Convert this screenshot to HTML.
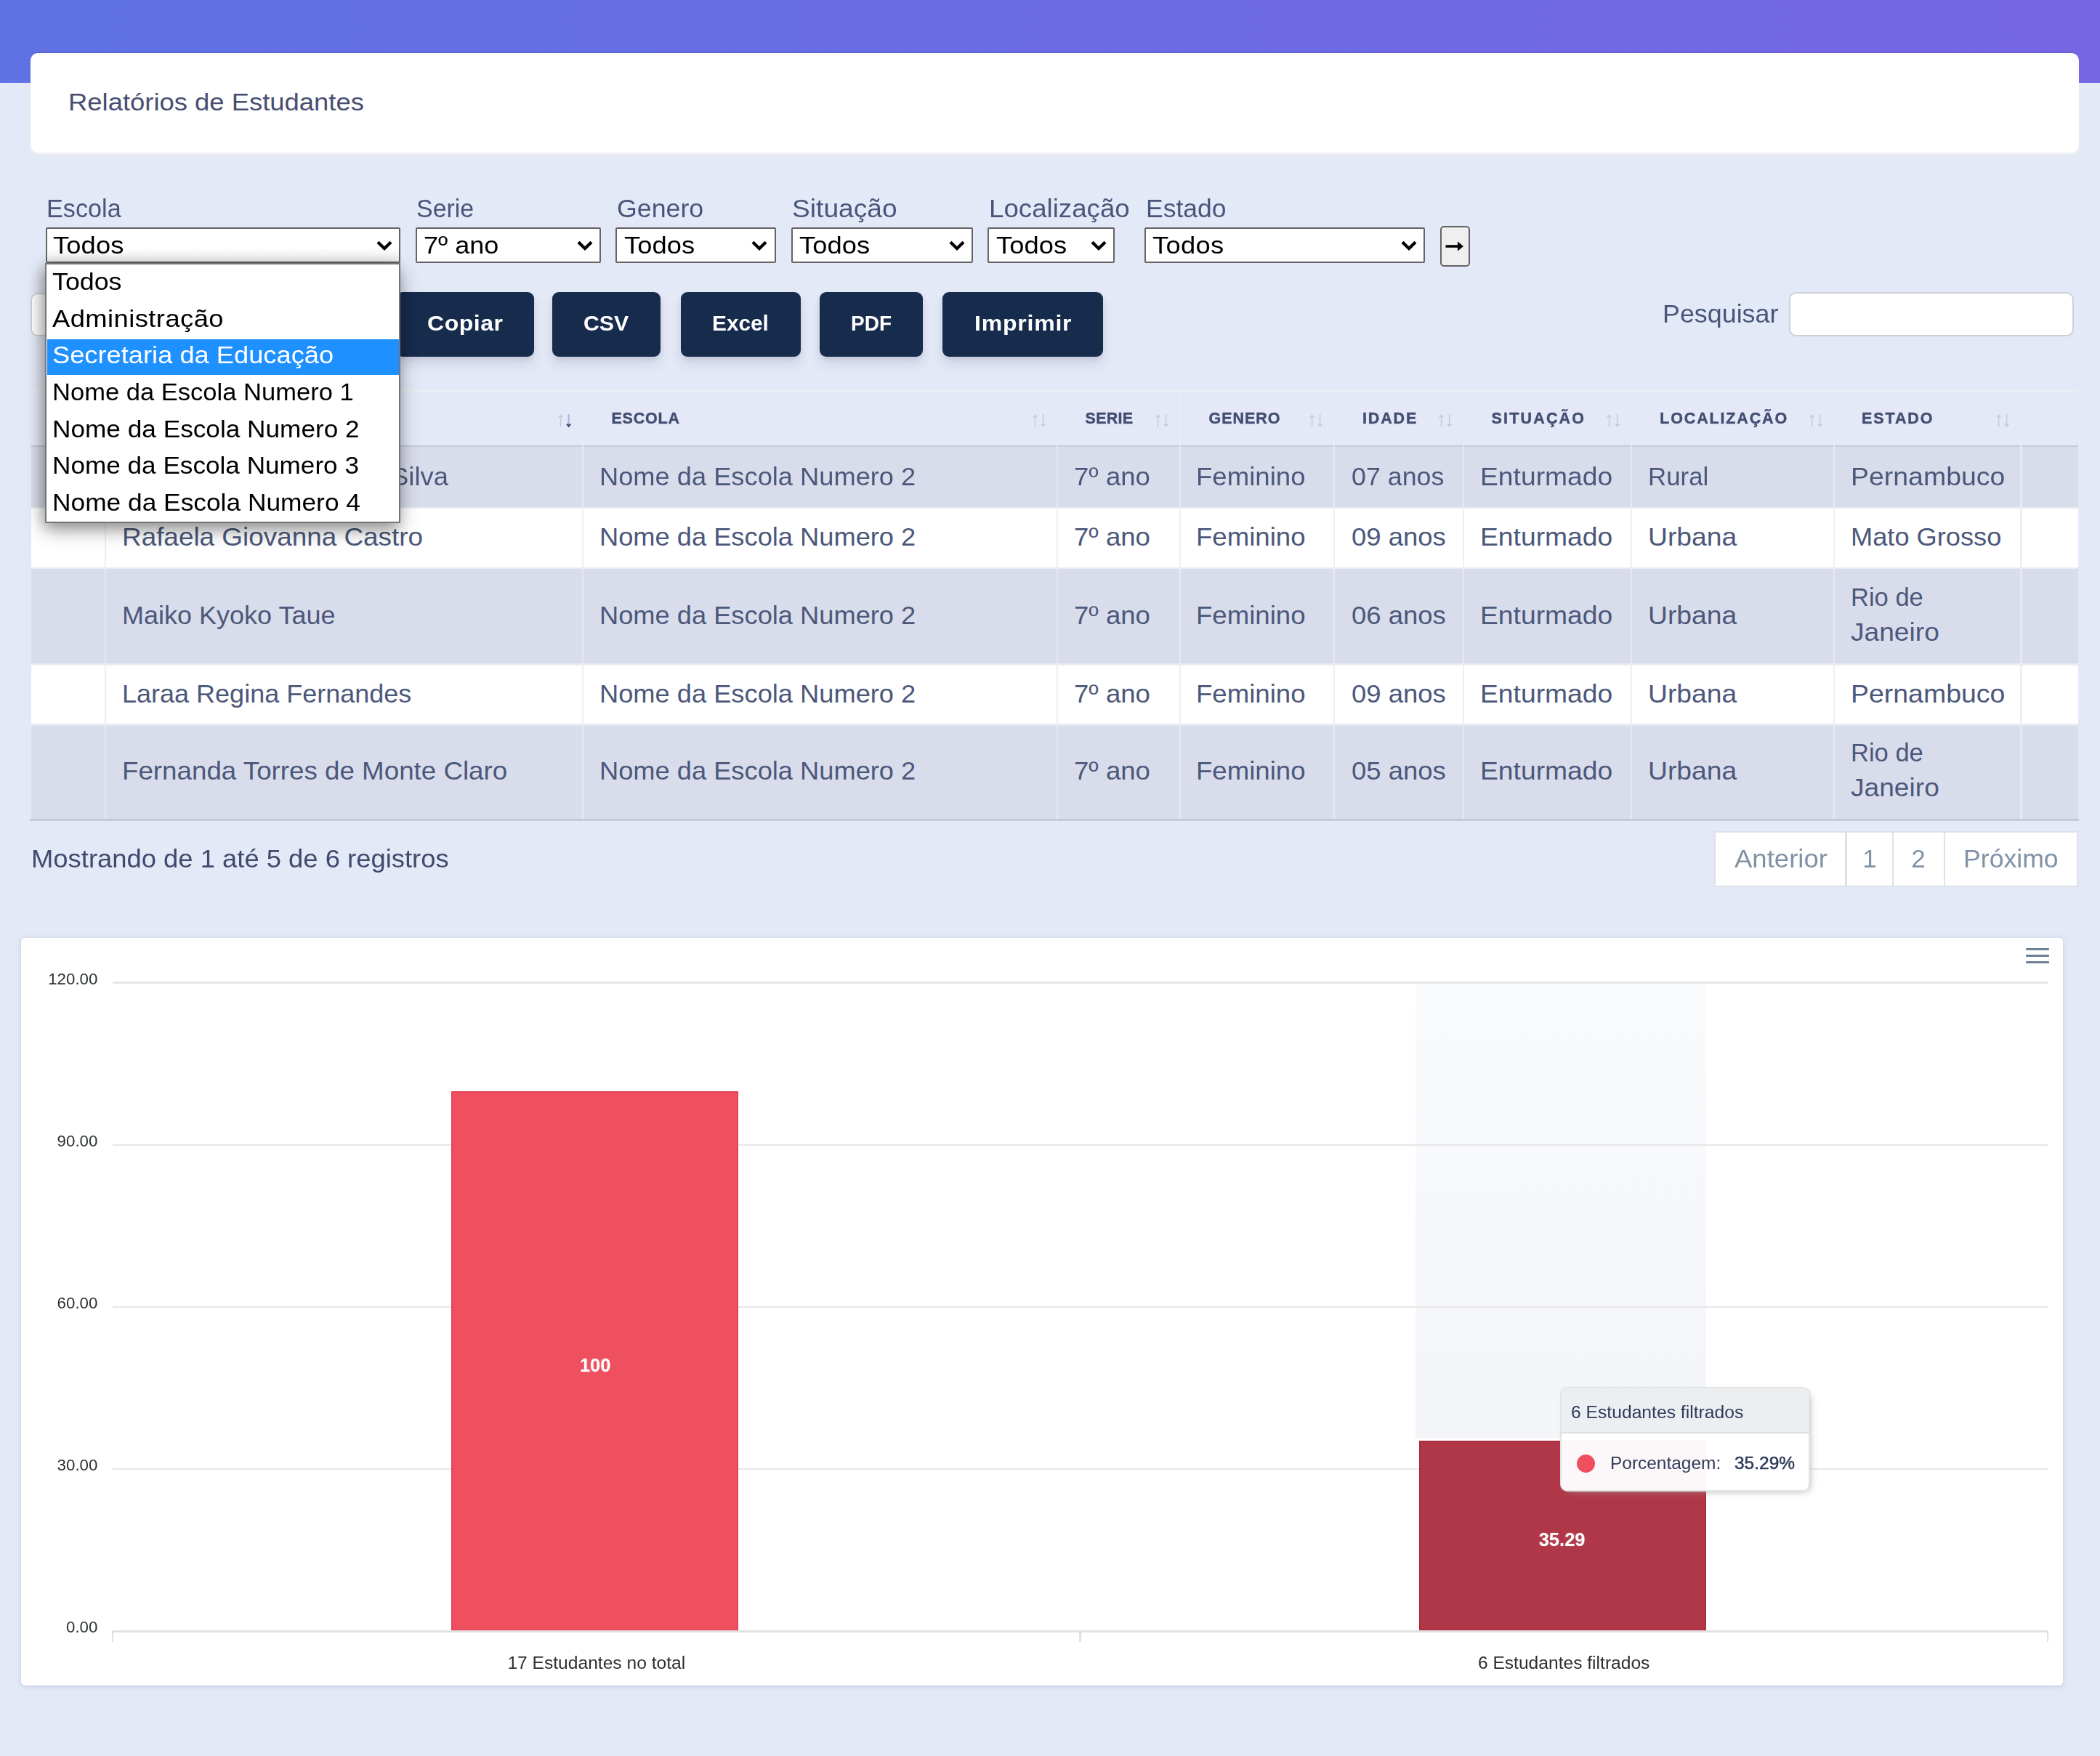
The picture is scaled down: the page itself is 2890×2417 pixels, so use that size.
<!DOCTYPE html>
<html lang="pt-br"><head><meta charset="utf-8"><title>Relatórios de Estudantes</title>
<style>
html,body{margin:0;padding:0}
html{overflow:hidden;width:2890px;height:2417px}
#w{position:absolute;left:0;top:0;width:2890px;height:2417px;overflow:hidden}
body{width:2890px;height:2417px;overflow:hidden;background:#e4e9f7;font-family:"Liberation Sans",sans-serif;position:relative}
#p{position:absolute;left:0;top:0;width:2890px;height:2417px;filter:blur(0.7px)}
#p div,#p span,#p svg{position:absolute;display:block}
#p span{white-space:pre;transform-origin:0 50%}
</style></head><body><div id="w"><div id="p"><div style="left:-20.0px;top:-20.0px;width:2930.0px;height:134.0px;background:linear-gradient(89deg,#5f72e4 0,#7766e4 100%);"></div><div style="left:41.5px;top:70.8px;width:2819.0px;height:29.2px;background:rgba(0,0,20,.07);border-radius:12px;"></div><div style="left:41.5px;top:150.0px;width:2819.0px;height:63.3px;background:#f0f1f4;border-radius:0 0 12px 12px;"></div><div style="left:41.5px;top:73.3px;width:2819.0px;height:136.7px;background:#fff;border-radius:10px;"></div><span style="left:93.6px;top:122.7px;font-size:34px;line-height:34px;color:#484e70;transform:scaleX(1.0711);">Relatórios de Estudantes</span><span style="left:64.0px;top:269.8px;font-size:34.5px;line-height:34.5px;color:#49557b;transform:scaleX(0.9913);">Escola</span><span style="left:573.3px;top:269.8px;font-size:34.5px;line-height:34.5px;color:#49557b;transform:scaleX(0.9839);">Serie</span><span style="left:848.8px;top:269.8px;font-size:34.5px;line-height:34.5px;color:#49557b;transform:scaleX(1.0356);">Genero</span><span style="left:1090.0px;top:269.8px;font-size:34.5px;line-height:34.5px;color:#49557b;transform:scaleX(1.0774);">Situação</span><span style="left:1361.0px;top:269.8px;font-size:34.5px;line-height:34.5px;color:#49557b;transform:scaleX(1.0631);">Localização</span><span style="left:1577.0px;top:269.8px;font-size:34.5px;line-height:34.5px;color:#49557b;transform:scaleX(1.0289);">Estado</span><div style="left:63.0px;top:313.0px;width:488.0px;height:49.0px;box-sizing:border-box;background:#fff;border:2.5px solid #646464;border-radius:2px;background:linear-gradient(#fff 60%,#ececec 100%);"><svg style="position:absolute;right:9.5px;top:16px" width="22" height="14" viewBox="0 0 22 14"><path d="M2 2.2 L11 11 L20 2.2" fill="none" stroke="#000" stroke-width="4.2" stroke-linecap="butt" stroke-linejoin="miter"/></svg></div><span style="left:73.3px;top:320.6px;font-size:33.5px;line-height:33.5px;color:#000;letter-spacing:0.09px;transform:scaleX(1.0850);">Todos</span><div style="left:572.0px;top:313.0px;width:255.0px;height:49.0px;box-sizing:border-box;background:#fff;border:2.5px solid #646464;border-radius:2px;"><svg style="position:absolute;right:9.5px;top:16px" width="22" height="14" viewBox="0 0 22 14"><path d="M2 2.2 L11 11 L20 2.2" fill="none" stroke="#000" stroke-width="4.2" stroke-linecap="butt" stroke-linejoin="miter"/></svg></div><span style="left:582.7px;top:320.6px;font-size:33.5px;line-height:33.5px;color:#000;transform:scaleX(1.0749);">7º ano</span><div style="left:847.0px;top:313.0px;width:220.5px;height:49.0px;box-sizing:border-box;background:#fff;border:2.5px solid #646464;border-radius:2px;"><svg style="position:absolute;right:9.5px;top:16px" width="22" height="14" viewBox="0 0 22 14"><path d="M2 2.2 L11 11 L20 2.2" fill="none" stroke="#000" stroke-width="4.2" stroke-linecap="butt" stroke-linejoin="miter"/></svg></div><span style="left:858.7px;top:320.6px;font-size:33.5px;line-height:33.5px;color:#000;letter-spacing:0.07px;transform:scaleX(1.0850);">Todos</span><div style="left:1088.5px;top:313.0px;width:250.5px;height:49.0px;box-sizing:border-box;background:#fff;border:2.5px solid #646464;border-radius:2px;"><svg style="position:absolute;right:9.5px;top:16px" width="22" height="14" viewBox="0 0 22 14"><path d="M2 2.2 L11 11 L20 2.2" fill="none" stroke="#000" stroke-width="4.2" stroke-linecap="butt" stroke-linejoin="miter"/></svg></div><span style="left:1100.0px;top:320.6px;font-size:33.5px;line-height:33.5px;color:#000;letter-spacing:0.07px;transform:scaleX(1.0850);">Todos</span><div style="left:1359.0px;top:313.0px;width:175.0px;height:49.0px;box-sizing:border-box;background:#fff;border:2.5px solid #646464;border-radius:2px;"><svg style="position:absolute;right:9.5px;top:16px" width="22" height="14" viewBox="0 0 22 14"><path d="M2 2.2 L11 11 L20 2.2" fill="none" stroke="#000" stroke-width="4.2" stroke-linecap="butt" stroke-linejoin="miter"/></svg></div><span style="left:1370.7px;top:320.6px;font-size:33.5px;line-height:33.5px;color:#000;letter-spacing:0.07px;transform:scaleX(1.0850);">Todos</span><div style="left:1575.0px;top:313.0px;width:386.0px;height:49.0px;box-sizing:border-box;background:#fff;border:2.5px solid #646464;border-radius:2px;"><svg style="position:absolute;right:9.5px;top:16px" width="22" height="14" viewBox="0 0 22 14"><path d="M2 2.2 L11 11 L20 2.2" fill="none" stroke="#000" stroke-width="4.2" stroke-linecap="butt" stroke-linejoin="miter"/></svg></div><span style="left:1585.9px;top:320.6px;font-size:33.5px;line-height:33.5px;color:#000;letter-spacing:0.25px;transform:scaleX(1.0850);">Todos</span><div style="left:1982.0px;top:310.5px;width:41.0px;height:56.0px;box-sizing:border-box;background:#efefef;border:2.5px solid #646464;border-radius:5px;"><svg style="position:absolute;left:5px;top:17px" width="26" height="18" viewBox="0 0 26 18"><path d="M0.5 9 H22" stroke="#000" stroke-width="3.6" fill="none"/><path d="M17 2.5 L25 9 L17 15.5 Z" fill="#000"/></svg></div><div style="left:41.7px;top:402.6px;width:288.3px;height:60.4px;box-sizing:border-box;background:#fff;border:2.5px solid #cad1d7;border-radius:10px;"></div><div style="left:544.5px;top:402.0px;width:190.2px;height:89.0px;background:#172b4d;border-radius:9px;box-shadow:0 11px 16px rgba(50,50,93,.11),0 3px 8px rgba(0,0,0,.08);"></div><span style="left:587.5px;top:429.8px;font-size:29.5px;line-height:29.5px;color:#fff;font-weight:700;letter-spacing:0.49px;transform:scaleX(1.0850);">Copiar</span><div style="left:760.0px;top:402.0px;width:149.0px;height:89.0px;background:#172b4d;border-radius:9px;box-shadow:0 11px 16px rgba(50,50,93,.11),0 3px 8px rgba(0,0,0,.08);"></div><span style="left:802.7px;top:429.8px;font-size:29.5px;line-height:29.5px;color:#fff;font-weight:700;transform:scaleX(1.0264);">CSV</span><div style="left:936.8px;top:402.0px;width:165.2px;height:89.0px;background:#172b4d;border-radius:9px;box-shadow:0 11px 16px rgba(50,50,93,.11),0 3px 8px rgba(0,0,0,.08);"></div><span style="left:980.0px;top:429.8px;font-size:29.5px;line-height:29.5px;color:#fff;font-weight:700;transform:scaleX(1.0104);">Excel</span><div style="left:1127.5px;top:402.0px;width:142.5px;height:89.0px;background:#172b4d;border-radius:9px;box-shadow:0 11px 16px rgba(50,50,93,.11),0 3px 8px rgba(0,0,0,.08);"></div><span style="left:1170.7px;top:429.8px;font-size:29.5px;line-height:29.5px;color:#fff;font-weight:700;transform:scaleX(0.9492);">PDF</span><div style="left:1297.0px;top:402.0px;width:221.0px;height:89.0px;background:#172b4d;border-radius:9px;box-shadow:0 11px 16px rgba(50,50,93,.11),0 3px 8px rgba(0,0,0,.08);"></div><span style="left:1340.5px;top:429.8px;font-size:29.5px;line-height:29.5px;color:#fff;font-weight:700;letter-spacing:0.72px;transform:scaleX(1.0850);">Imprimir</span><span style="left:2288.0px;top:414.8px;font-size:34.5px;line-height:34.5px;color:#49557b;transform:scaleX(1.0391);">Pesquisar</span><div style="left:2462.0px;top:402.0px;width:391.6px;height:61.0px;box-sizing:border-box;background:#fff;border:2.5px solid #cad1d7;border-radius:10px;"></div><div style="left:43.0px;top:536.5px;width:2816.5px;height:77.8px;background:#e5e9f7;"></div><div style="left:43.0px;top:536.5px;width:2816.5px;height:2.8px;background:#ebedf2;"></div><div style="left:43.0px;top:614.3px;width:2816.5px;height:84.7px;background:#d9ddeb;"></div><div style="left:43.0px;top:699.0px;width:2816.5px;height:82.8px;background:#ffffff;"></div><div style="left:43.0px;top:697.7px;width:2816.5px;height:2.6px;background:#e9ecf2;"></div><div style="left:43.0px;top:781.8px;width:2816.5px;height:132.8px;background:#d9ddeb;"></div><div style="left:43.0px;top:780.5px;width:2816.5px;height:2.6px;background:#e9ecf2;"></div><div style="left:43.0px;top:914.6px;width:2816.5px;height:82.7px;background:#ffffff;"></div><div style="left:43.0px;top:913.3px;width:2816.5px;height:2.6px;background:#e9ecf2;"></div><div style="left:43.0px;top:997.3px;width:2816.5px;height:130.3px;background:#d9ddeb;"></div><div style="left:43.0px;top:996.0px;width:2816.5px;height:2.6px;background:#e9ecf2;"></div><div style="left:43.0px;top:613.0px;width:2816.5px;height:2.4px;background:#c6cbd6;"></div><div style="left:144.2px;top:536.5px;width:2.3px;height:591.1px;background:#e9ecef;opacity:.8;"></div><div style="left:801.2px;top:536.5px;width:2.3px;height:591.1px;background:#e9ecef;opacity:.8;"></div><div style="left:1453.5px;top:536.5px;width:2.3px;height:591.1px;background:#e9ecef;opacity:.8;"></div><div style="left:1623.2px;top:536.5px;width:2.3px;height:591.1px;background:#e9ecef;opacity:.8;"></div><div style="left:1834.6px;top:536.5px;width:2.3px;height:591.1px;background:#e9ecef;opacity:.8;"></div><div style="left:2013.2px;top:536.5px;width:2.3px;height:591.1px;background:#e9ecef;opacity:.8;"></div><div style="left:2243.5px;top:536.5px;width:2.3px;height:591.1px;background:#e9ecef;opacity:.8;"></div><div style="left:2523.1px;top:536.5px;width:2.3px;height:591.1px;background:#e9ecef;opacity:.8;"></div><div style="left:2780.3px;top:536.5px;width:2.3px;height:591.1px;background:#e9ecef;opacity:.8;"></div><div style="left:41.0px;top:1127.2px;width:2820.0px;height:2.5px;background:#c6cbd6;"></div><span style="left:841.5px;top:565.8px;font-size:21.5px;line-height:21.5px;color:#434d72;font-weight:700;letter-spacing:0.78px;-webkit-text-stroke:0.45px #434d72;">ESCOLA</span><span style="left:1493.6px;top:565.8px;font-size:21.5px;line-height:21.5px;color:#434d72;font-weight:700;letter-spacing:0.23px;-webkit-text-stroke:0.45px #434d72;">SERIE</span><span style="left:1663.6px;top:565.8px;font-size:21.5px;line-height:21.5px;color:#434d72;font-weight:700;letter-spacing:0.92px;-webkit-text-stroke:0.45px #434d72;">GENERO</span><span style="left:1875.0px;top:565.8px;font-size:21.5px;line-height:21.5px;color:#434d72;font-weight:700;letter-spacing:1.85px;-webkit-text-stroke:0.45px #434d72;">IDADE</span><span style="left:2052.6px;top:565.8px;font-size:21.5px;line-height:21.5px;color:#434d72;font-weight:700;letter-spacing:2.16px;-webkit-text-stroke:0.45px #434d72;">SITUAÇÃO</span><span style="left:2284.3px;top:565.8px;font-size:21.5px;line-height:21.5px;color:#434d72;font-weight:700;letter-spacing:1.84px;-webkit-text-stroke:0.45px #434d72;">LOCALIZAÇÃO</span><span style="left:2562.0px;top:565.8px;font-size:21.5px;line-height:21.5px;color:#434d72;font-weight:700;letter-spacing:1.90px;-webkit-text-stroke:0.45px #434d72;">ESTADO</span><span style="left:184.0px;top:565.3px;font-size:21.5px;line-height:21.5px;color:#434d72;font-weight:700;letter-spacing:0.50px;">NOME</span><svg style="left:766.3px;top:569px" width="22" height="20" viewBox="0 0 22 20"><path d="M5.6 18.4 V2.6 M2.8 5.8 L5.6 2.4 L8.4 5.8" fill="none" stroke="#c6ccdb" stroke-width="1.6"/><path d="M16.6 1 V17" fill="none" stroke="#a9b6e6" stroke-width="2.2"/><path d="M14.2 14.6 L16.6 17.6 L19 14.6" fill="none" stroke="#4d4a75" stroke-width="2.4"/></svg><svg style="left:1418.6px;top:569px" width="22" height="20" viewBox="0 0 22 20"><path d="M5.6 18.4 V2.6 M2.8 5.8 L5.6 2.4 L8.4 5.8" fill="none" stroke="#c6ccdb" stroke-width="1.6"/><path d="M16.6 1 V17.4 M13.8 14.4 L16.6 17.6 L19.4 14.4" fill="none" stroke="#c6ccdb" stroke-width="1.6"/></svg><svg style="left:1588.3px;top:569px" width="22" height="20" viewBox="0 0 22 20"><path d="M5.6 18.4 V2.6 M2.8 5.8 L5.6 2.4 L8.4 5.8" fill="none" stroke="#c6ccdb" stroke-width="1.6"/><path d="M16.6 1 V17.4 M13.8 14.4 L16.6 17.6 L19.4 14.4" fill="none" stroke="#c6ccdb" stroke-width="1.6"/></svg><svg style="left:1799.7px;top:569px" width="22" height="20" viewBox="0 0 22 20"><path d="M5.6 18.4 V2.6 M2.8 5.8 L5.6 2.4 L8.4 5.8" fill="none" stroke="#c6ccdb" stroke-width="1.6"/><path d="M16.6 1 V17.4 M13.8 14.4 L16.6 17.6 L19.4 14.4" fill="none" stroke="#c6ccdb" stroke-width="1.6"/></svg><svg style="left:1978.3px;top:569px" width="22" height="20" viewBox="0 0 22 20"><path d="M5.6 18.4 V2.6 M2.8 5.8 L5.6 2.4 L8.4 5.8" fill="none" stroke="#c6ccdb" stroke-width="1.6"/><path d="M16.6 1 V17.4 M13.8 14.4 L16.6 17.6 L19.4 14.4" fill="none" stroke="#c6ccdb" stroke-width="1.6"/></svg><svg style="left:2208.6px;top:569px" width="22" height="20" viewBox="0 0 22 20"><path d="M5.6 18.4 V2.6 M2.8 5.8 L5.6 2.4 L8.4 5.8" fill="none" stroke="#c6ccdb" stroke-width="1.6"/><path d="M16.6 1 V17.4 M13.8 14.4 L16.6 17.6 L19.4 14.4" fill="none" stroke="#c6ccdb" stroke-width="1.6"/></svg><svg style="left:2488.2px;top:569px" width="22" height="20" viewBox="0 0 22 20"><path d="M5.6 18.4 V2.6 M2.8 5.8 L5.6 2.4 L8.4 5.8" fill="none" stroke="#c6ccdb" stroke-width="1.6"/><path d="M16.6 1 V17.4 M13.8 14.4 L16.6 17.6 L19.4 14.4" fill="none" stroke="#c6ccdb" stroke-width="1.6"/></svg><svg style="left:2745.4px;top:569px" width="22" height="20" viewBox="0 0 22 20"><path d="M5.6 18.4 V2.6 M2.8 5.8 L5.6 2.4 L8.4 5.8" fill="none" stroke="#c6ccdb" stroke-width="1.6"/><path d="M16.6 1 V17.4 M13.8 14.4 L16.6 17.6 L19.4 14.4" fill="none" stroke="#c6ccdb" stroke-width="1.6"/></svg><span style="left:538.0px;top:638.0px;font-size:35px;line-height:35px;color:#4c587b;transform:scaleX(1.0408);">Silva</span><span style="left:825.2px;top:638.0px;font-size:35px;line-height:35px;color:#4c587b;transform:scaleX(1.0359);">Nome da Escola Numero 2</span><span style="left:1478.0px;top:638.0px;font-size:35px;line-height:35px;color:#4c587b;transform:scaleX(1.0458);">7º ano</span><span style="left:1646.4px;top:638.0px;font-size:35px;line-height:35px;color:#4c587b;transform:scaleX(1.0458);">Feminino</span><span style="left:1859.6px;top:638.0px;font-size:35px;line-height:35px;color:#4c587b;transform:scaleX(1.0225);">07 anos</span><span style="left:2036.7px;top:638.0px;font-size:35px;line-height:35px;color:#4c587b;transform:scaleX(1.0648);">Enturmado</span><span style="left:2267.8px;top:638.0px;font-size:35px;line-height:35px;color:#4c587b;transform:scaleX(0.9952);">Rural</span><span style="left:2547.0px;top:638.0px;font-size:35px;line-height:35px;color:#4c587b;transform:scaleX(1.0701);">Pernambuco</span><span style="left:168.4px;top:721.3px;font-size:35px;line-height:35px;color:#4c587b;transform:scaleX(1.0534);">Rafaela Giovanna Castro</span><span style="left:825.2px;top:721.3px;font-size:35px;line-height:35px;color:#4c587b;transform:scaleX(1.0359);">Nome da Escola Numero 2</span><span style="left:1478.0px;top:721.3px;font-size:35px;line-height:35px;color:#4c587b;transform:scaleX(1.0458);">7º ano</span><span style="left:1646.4px;top:721.3px;font-size:35px;line-height:35px;color:#4c587b;transform:scaleX(1.0458);">Feminino</span><span style="left:1859.6px;top:721.3px;font-size:35px;line-height:35px;color:#4c587b;transform:scaleX(1.0425);">09 anos</span><span style="left:2036.7px;top:721.3px;font-size:35px;line-height:35px;color:#4c587b;transform:scaleX(1.0648);">Enturmado</span><span style="left:2267.8px;top:721.3px;font-size:35px;line-height:35px;color:#4c587b;transform:scaleX(1.0645);">Urbana</span><span style="left:2547.0px;top:721.3px;font-size:35px;line-height:35px;color:#4c587b;transform:scaleX(1.0349);">Mato Grosso</span><span style="left:168.4px;top:829.1px;font-size:35px;line-height:35px;color:#4c587b;transform:scaleX(1.0287);">Maiko Kyoko Taue</span><span style="left:825.2px;top:829.1px;font-size:35px;line-height:35px;color:#4c587b;transform:scaleX(1.0359);">Nome da Escola Numero 2</span><span style="left:1478.0px;top:829.1px;font-size:35px;line-height:35px;color:#4c587b;transform:scaleX(1.0458);">7º ano</span><span style="left:1646.4px;top:829.1px;font-size:35px;line-height:35px;color:#4c587b;transform:scaleX(1.0458);">Feminino</span><span style="left:1859.6px;top:829.1px;font-size:35px;line-height:35px;color:#4c587b;transform:scaleX(1.0425);">06 anos</span><span style="left:2036.7px;top:829.1px;font-size:35px;line-height:35px;color:#4c587b;transform:scaleX(1.0648);">Enturmado</span><span style="left:2267.8px;top:829.1px;font-size:35px;line-height:35px;color:#4c587b;transform:scaleX(1.0645);">Urbana</span><span style="left:2547.0px;top:804.0px;font-size:35px;line-height:35px;color:#4c587b;transform:scaleX(0.9862);">Rio de</span><span style="left:2547.0px;top:851.8px;font-size:35px;line-height:35px;color:#4c587b;transform:scaleX(1.0610);">Janeiro</span><span style="left:168.4px;top:936.8px;font-size:35px;line-height:35px;color:#4c587b;transform:scaleX(1.0287);">Laraa Regina Fernandes</span><span style="left:825.2px;top:936.8px;font-size:35px;line-height:35px;color:#4c587b;transform:scaleX(1.0359);">Nome da Escola Numero 2</span><span style="left:1478.0px;top:936.8px;font-size:35px;line-height:35px;color:#4c587b;transform:scaleX(1.0458);">7º ano</span><span style="left:1646.4px;top:936.8px;font-size:35px;line-height:35px;color:#4c587b;transform:scaleX(1.0458);">Feminino</span><span style="left:1859.6px;top:936.8px;font-size:35px;line-height:35px;color:#4c587b;transform:scaleX(1.0425);">09 anos</span><span style="left:2036.7px;top:936.8px;font-size:35px;line-height:35px;color:#4c587b;transform:scaleX(1.0648);">Enturmado</span><span style="left:2267.8px;top:936.8px;font-size:35px;line-height:35px;color:#4c587b;transform:scaleX(1.0645);">Urbana</span><span style="left:2547.0px;top:936.8px;font-size:35px;line-height:35px;color:#4c587b;transform:scaleX(1.0701);">Pernambuco</span><span style="left:168.4px;top:1043.3px;font-size:35px;line-height:35px;color:#4c587b;transform:scaleX(1.0495);">Fernanda Torres de Monte Claro</span><span style="left:825.2px;top:1043.3px;font-size:35px;line-height:35px;color:#4c587b;transform:scaleX(1.0359);">Nome da Escola Numero 2</span><span style="left:1478.0px;top:1043.3px;font-size:35px;line-height:35px;color:#4c587b;transform:scaleX(1.0458);">7º ano</span><span style="left:1646.4px;top:1043.3px;font-size:35px;line-height:35px;color:#4c587b;transform:scaleX(1.0458);">Feminino</span><span style="left:1859.6px;top:1043.3px;font-size:35px;line-height:35px;color:#4c587b;transform:scaleX(1.0425);">05 anos</span><span style="left:2036.7px;top:1043.3px;font-size:35px;line-height:35px;color:#4c587b;transform:scaleX(1.0648);">Enturmado</span><span style="left:2267.8px;top:1043.3px;font-size:35px;line-height:35px;color:#4c587b;transform:scaleX(1.0645);">Urbana</span><span style="left:2547.0px;top:1018.2px;font-size:35px;line-height:35px;color:#4c587b;transform:scaleX(0.9862);">Rio de</span><span style="left:2547.0px;top:1066.0px;font-size:35px;line-height:35px;color:#4c587b;transform:scaleX(1.0610);">Janeiro</span><span style="left:43.0px;top:1163.9px;font-size:35px;line-height:35px;color:#414a6d;transform:scaleX(1.0400);">Mostrando de 1 até 5 de 6 registros</span><div style="left:2358.8px;top:1144.0px;width:501.5px;height:77.0px;box-sizing:border-box;background:#fff;border:2.5px solid #dee2e6;"></div><div style="left:2539.4px;top:1144.0px;width:2.6px;height:77.0px;background:#dee2e6;"></div><div style="left:2603.9px;top:1144.0px;width:2.6px;height:77.0px;background:#dee2e6;"></div><div style="left:2674.7px;top:1144.0px;width:2.6px;height:77.0px;background:#dee2e6;"></div><span style="left:2387.0px;top:1164.3px;font-size:35px;line-height:35px;color:#8292a6;transform:scaleX(1.0440);">Anterior</span><span style="left:2563.2px;top:1164.3px;font-size:35px;line-height:35px;color:#8292a6;">1</span><span style="left:2630.2px;top:1164.3px;font-size:35px;line-height:35px;color:#8292a6;">2</span><span style="left:2702.0px;top:1164.3px;font-size:35px;line-height:35px;color:#8292a6;transform:scaleX(1.0179);">Próximo</span><div style="left:28.5px;top:1290.6px;width:2810.0px;height:1029.7px;background:#fff;border-radius:6px;box-shadow:0 1px 10px rgba(60,70,130,.13),0 1px 3px rgba(60,70,130,.10);"></div><div style="left:1948.0px;top:1352.6px;width:399.8px;height:627.6px;background:linear-gradient(#f9fafc,#f3f5f9);"></div><div style="left:155.0px;top:1351.4px;width:2663.0px;height:2.5px;background:#e6e6e6;"></div><div style="left:155.0px;top:1574.5px;width:2663.0px;height:2.5px;background:#e6e6e6;"></div><div style="left:155.0px;top:1797.7px;width:2663.0px;height:2.5px;background:#e6e6e6;"></div><div style="left:155.0px;top:2020.8px;width:2663.0px;height:2.5px;background:#e6e6e6;"></div><div style="left:621.0px;top:1501.6px;width:395.4px;height:743.6px;background:#ee5060;box-shadow:inset 0 0 0 2px rgba(215,40,70,.35);"></div><div style="left:1952.5px;top:1983.2px;width:395.3px;height:262.0px;background:#b03747;box-shadow:inset 0 0 0 2px #a92d3d;"></div><div style="left:155.0px;top:2244.2px;width:2663.0px;height:2.6px;background:#e0e0e0;"></div><div style="left:153.8px;top:2245.2px;width:2.4px;height:15.0px;background:#e0e0e0;"></div><div style="left:1485.3px;top:2245.2px;width:2.4px;height:15.0px;background:#e0e0e0;"></div><div style="left:2816.8px;top:2245.2px;width:2.4px;height:15.0px;background:#e0e0e0;"></div><span style="left:66.2px;top:1336.5px;font-size:22.3px;line-height:22.3px;color:#2b3032;">120.00</span><span style="left:78.6px;top:1559.6px;font-size:22.3px;line-height:22.3px;color:#2b3032;">90.00</span><span style="left:78.6px;top:1782.8px;font-size:22.3px;line-height:22.3px;color:#2b3032;">60.00</span><span style="left:78.6px;top:2005.9px;font-size:22.3px;line-height:22.3px;color:#2b3032;">30.00</span><span style="left:91.0px;top:2229.1px;font-size:22.3px;line-height:22.3px;color:#2b3032;">0.00</span><span style="left:698.4px;top:2276.6px;font-size:24.6px;line-height:24.6px;color:#2b3032;">17 Estudantes no total</span><span style="left:2033.9px;top:2276.6px;font-size:24.6px;line-height:24.6px;color:#2b3032;">6 Estudantes filtrados</span><span style="left:797.9px;top:1866.6px;font-size:25.5px;line-height:25.5px;color:#fff;font-weight:700;text-shadow:0 0 2px rgba(255,255,255,.35);">100</span><span style="left:2117.7px;top:2107.0px;font-size:25.5px;line-height:25.5px;color:#fff;font-weight:700;text-shadow:0 0 2px rgba(255,255,255,.35);">35.29</span><div style="left:2787.5px;top:1304.7px;width:32.0px;height:3.4px;background:#6e8192;border-radius:1px;"></div><div style="left:2787.5px;top:1313.7px;width:32.0px;height:3.4px;background:#6e8192;border-radius:1px;"></div><div style="left:2787.5px;top:1322.6px;width:32.0px;height:3.4px;background:#6e8192;border-radius:1px;"></div><div style="left:2147.3px;top:1909.2px;width:344.2px;height:144.3px;box-sizing:border-box;background:rgba(255,255,255,.96);border:2px solid #e3e3e3;border-radius:10px;box-shadow:4px 4px 12px -6px #999;overflow:hidden;"><div style="left:0;top:0;width:100%;height:62px;background:#eceff1;border-bottom:2px solid #ddd;box-sizing:border-box;"></div></div><span style="left:2162.4px;top:1932.2px;font-size:24.6px;line-height:24.6px;color:#2f3a5a;transform:scaleX(1.0030);">6 Estudantes filtrados</span><div style="left:2170.3px;top:2001.7px;width:25.0px;height:25.0px;background:#ee5060;border-radius:50%;"></div><span style="left:2215.8px;top:2002.2px;font-size:24.6px;line-height:24.6px;color:#2f3a5a;transform:scaleX(0.9941);">Porcentagem:</span><span style="left:2386.5px;top:2002.2px;font-size:24.6px;line-height:24.6px;color:#2f3a5a;transform:scaleX(0.9952);-webkit-text-stroke:0.5px #2f3a5a;">35.29%</span><div style="left:62px;top:362.3px;width:488.7px;height:357.7px;box-sizing:border-box;background:#fff;border:2.5px solid #767676;box-shadow:0 10px 24px rgba(0,0,0,.35),-6px 4px 18px rgba(0,0,0,.18);"></div><div style="left:64.5px;top:466.5px;width:484.3px;height:49.5px;background:#1e90ff;"></div><span style="left:72.0px;top:371.1px;font-size:33.5px;line-height:33.5px;color:#000;transform:scaleX(1.0682);">Todos</span><span style="left:72.0px;top:421.6px;font-size:33.5px;line-height:33.5px;color:#000;letter-spacing:0.40px;transform:scaleX(1.0850);">Administração</span><span style="left:72.0px;top:472.4px;font-size:33.5px;line-height:33.5px;color:#fff;transform:scaleX(1.0828);">Secretaria da Educação</span><span style="left:72.0px;top:522.9px;font-size:33.5px;line-height:33.5px;color:#000;transform:scaleX(1.0311);">Nome da Escola Numero 1</span><span style="left:72.0px;top:573.6px;font-size:33.5px;line-height:33.5px;color:#000;transform:scaleX(1.0510);">Nome da Escola Numero 2</span><span style="left:72.0px;top:623.8px;font-size:33.5px;line-height:33.5px;color:#000;transform:scaleX(1.0492);">Nome da Escola Numero 3</span><span style="left:72.0px;top:674.5px;font-size:33.5px;line-height:33.5px;color:#000;transform:scaleX(1.0542);">Nome da Escola Numero 4</span></div></div></body></html>
